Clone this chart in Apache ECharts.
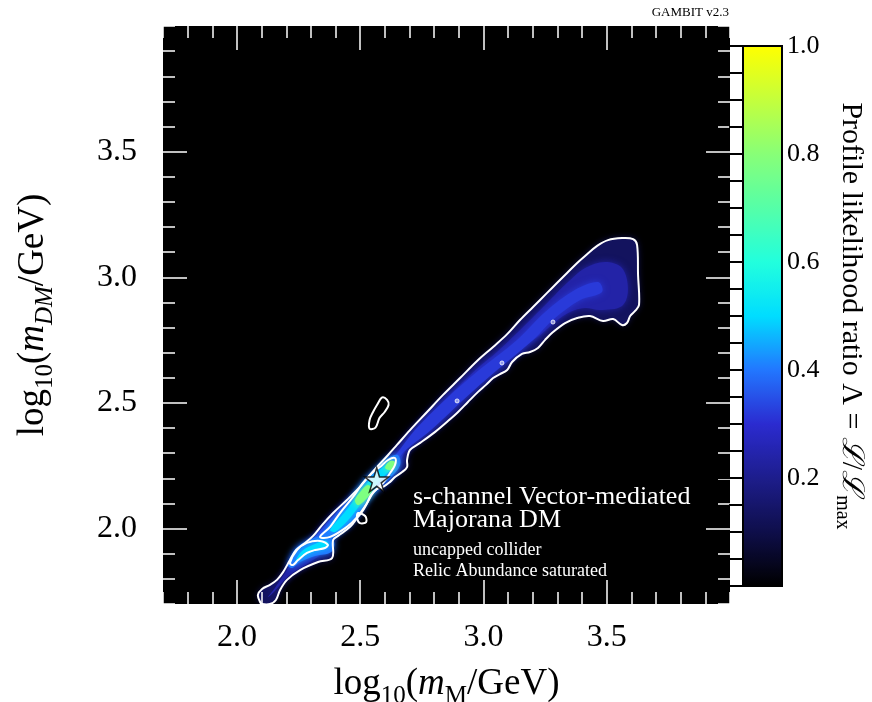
<!DOCTYPE html>
<html>
<head>
<meta charset="utf-8">
<script src="https://cdn.jsdelivr.net/npm/echarts@6/dist/echarts.min.js"></script>
<style>
  html, body { margin: 0; background: #fff; }
  #chart { width: 872px; height: 702px; }
</style>
</head>
<body>
<div id="chart"></div>
<script>
// regions of the profile likelihood
// points are [log10(mM/GeV), log10(mDM/GeV)]
const outerBand = [
  [2.094,1.708],[2.085,1.736],[2.102,1.760],[2.134,1.776],[2.162,1.796],[2.187,1.827],[2.215,1.875],
  [2.240,1.915],[2.276,1.943],[2.309,1.971],[2.345,2.014],[2.390,2.062],[2.446,2.114],[2.499,2.166],
  [2.532,2.205],[2.568,2.245],[2.613,2.293],[2.649,2.333],[2.702,2.392],[2.771,2.464],[2.836,2.532],
  [2.905,2.599],[2.974,2.667],[3.039,2.723],[3.096,2.774],[3.148,2.830],[3.201,2.882],[3.258,2.938],
  [3.298,2.977],[3.339,3.017],[3.380,3.057],[3.412,3.085],[3.461,3.125],[3.505,3.148],[3.562,3.156],
  [3.607,3.152],[3.623,3.129],[3.627,3.009],[3.631,2.890],[3.615,2.866],[3.595,2.846],[3.582,2.818],
  [3.562,2.810],[3.526,2.834],[3.485,2.826],[3.432,2.846],[3.380,2.838],[3.331,2.818],[3.282,2.782],
  [3.250,2.751],[3.221,2.719],[3.189,2.703],[3.156,2.695],[3.116,2.663],[3.096,2.631],[3.067,2.615],
  [3.039,2.599],[3.010,2.572],[2.978,2.544],[2.937,2.504],[2.897,2.464],[2.856,2.428],[2.804,2.385],
  [2.743,2.341],[2.702,2.313],[2.690,2.273],[2.690,2.245],[2.670,2.225],[2.641,2.205],[2.621,2.186],
  [2.593,2.166],[2.568,2.158],[2.544,2.134],[2.524,2.094],[2.507,2.066],[2.487,2.042],[2.459,2.007],
  [2.410,1.971],[2.390,1.955],[2.386,1.883],[2.329,1.867],[2.256,1.835],[2.203,1.796],[2.175,1.756],
  [2.158,1.716],[2.134,1.700],[2.102,1.700]
];
const midBand = [
  [2.126,1.728],[2.154,1.764],[2.203,1.835],[2.236,1.891],[2.288,1.931],[2.349,1.983],[2.398,2.046],
  [2.459,2.102],[2.520,2.162],[2.580,2.229],[2.641,2.293],[2.710,2.373],[2.783,2.452],[2.852,2.520],
  [2.917,2.583],[2.986,2.647],[3.055,2.703],[3.116,2.759],[3.177,2.818],[3.234,2.874],[3.290,2.930],
  [3.343,2.981],[3.412,3.037],[3.493,3.061],[3.562,3.037],[3.586,2.950],[3.562,2.886],[3.473,2.870],
  [3.412,2.878],[3.351,2.862],[3.290,2.822],[3.230,2.770],[3.169,2.731],[3.088,2.671],[3.027,2.623],
  [2.966,2.572],[2.905,2.512],[2.844,2.456],[2.783,2.404],[2.722,2.361],[2.674,2.293],[2.653,2.241],
  [2.605,2.194],[2.532,2.146],[2.499,2.082],[2.442,2.014],[2.390,1.975],[2.361,1.915],[2.296,1.867],
  [2.215,1.816],[2.150,1.748]
];
const coreBand = [
  [2.231,1.867],[2.304,1.955],[2.455,2.114],[2.560,2.194],[2.645,2.293],[2.722,2.392],[2.844,2.512],
  [2.982,2.631],[3.136,2.751],[3.250,2.862],[3.372,2.950],[3.465,2.981],[3.481,2.942],[3.392,2.910],
  [3.290,2.838],[3.201,2.751],[3.055,2.631],[2.917,2.512],[2.787,2.392],[2.666,2.293],[2.609,2.194],
  [2.511,2.114],[2.361,1.955],[2.276,1.891],[2.248,1.867]
];
const lowPatch = [
  [2.207,1.855],[2.240,1.923],[2.296,1.955],[2.357,1.971],[2.394,1.947],[2.382,1.907],[2.317,1.891],
  [2.256,1.867],[2.223,1.843]
];
const neckPatch = [
  [2.329,1.955],[2.398,2.042],[2.459,2.114],[2.507,2.182],[2.560,2.233],[2.613,2.281],[2.653,2.293],
  [2.662,2.253],[2.629,2.209],[2.580,2.166],[2.532,2.114],[2.479,2.042],[2.418,1.987],[2.357,1.947]
];
const lowCore = [
  [2.236,1.867],[2.264,1.911],[2.317,1.939],[2.361,1.951],[2.373,1.931],[2.321,1.915],[2.264,1.887]
];
const neckCore = [
  [2.378,1.995],[2.438,2.066],[2.491,2.134],[2.540,2.194],[2.593,2.245],[2.633,2.269],[2.637,2.249],
  [2.597,2.209],[2.548,2.154],[2.499,2.094],[2.451,2.034],[2.398,1.987]
];
const peakLow = [[2.479,2.114],[2.507,2.154],[2.532,2.174],[2.548,2.154],[2.520,2.114],[2.491,2.094]];
const peakHigh = [[2.601,2.241],[2.621,2.269],[2.641,2.265],[2.629,2.233]];

const fillShapes = [outerBand, midBand, coreBand, lowPatch, neckPatch, lowCore, neckCore, peakLow, peakHigh];
const fillLevels = [0.13, 0.24, 0.32, 0.4, 0.4, 0.5, 0.5, 0.78, 0.78];

// white confidence contours
const innerLow = [
  [2.215,1.863],[2.244,1.915],[2.284,1.943],[2.337,1.951],[2.369,1.935],[2.357,1.923],[2.317,1.915],
  [2.284,1.903],[2.248,1.875],[2.227,1.855]
];
const innerNeck = [
  [2.337,1.967],[2.378,2.007],[2.418,2.062],[2.471,2.126],[2.511,2.182],[2.548,2.221],[2.580,2.245],
  [2.613,2.273],[2.641,2.281],[2.641,2.253],[2.621,2.221],[2.593,2.182],[2.552,2.142],[2.528,2.102],
  [2.487,2.046],[2.446,2.007],[2.378,1.967]
];
const island = [
  [2.609,2.512],[2.589,2.522],[2.568,2.492],[2.552,2.464],[2.538,2.432],[2.538,2.398],[2.562,2.402],
  [2.578,2.440],[2.599,2.464],[2.615,2.492]
];
const smallLoop = [[2.491,2.062],[2.520,2.050],[2.524,2.026],[2.499,2.022],[2.487,2.042]];
const contourLines = [outerBand, innerLow, innerNeck, island, smallLoop];
const tinyLoops = [[2.893,2.508],[3.075,2.659],[3.282,2.822]];
const bestFit = [[2.567,2.194]];

const xMajor = [2.0, 2.5, 3.0, 3.5];
const yMajor = [2.0, 2.5, 3.0, 3.5];
const cmap = ['#000000','#0e0e4a','#1d1d8c','#2b2bd0','#2277ff','#00ddff',
              '#22ffdd','#55ffa8','#88ff77','#c4ff3c','#ffff00'];

const font = "'Liberation Serif', 'DejaVu Serif', serif";
const chart = echarts.init(document.getElementById('chart'));

function frameAxis(kind, position, major) {
  const ax = {
    type: 'value', gridIndex: 0, position, min: 1.7, max: 4.0, z: 5,
    axisLine: { show: false, onZero: false },
    splitLine: { show: false },
    axisTick: { show: true, inside: true, length: major ? 24 : 12, lineStyle: { color: '#fff', width: 1.5 } },
    axisLabel: { show: false }
  };
  if (major) ax.axisTick.customValues = kind === 'x' ? xMajor : yMajor;
  else ax.interval = 0.1;
  return ax;
}

const labelStyle = { fontSize: 32, color: '#000', fontFamily: font };
const rich = {
  a: { fontSize: 37, fontFamily: font, color: '#000', lineHeight: 50 },
  i: { fontSize: 37, fontFamily: font, color: '#000', fontStyle: 'italic', lineHeight: 50 },
  s: { fontSize: 25, fontFamily: font, color: '#000', lineHeight: 26, verticalAlign: 'bottom' },
  si: { fontSize: 25, fontFamily: font, color: '#000', fontStyle: 'italic', lineHeight: 26, verticalAlign: 'bottom' }
};
const cbRich = {
  a: { fontSize: 30, fontFamily: font, color: '#000', lineHeight: 38 },
  i: { fontSize: 30, fontFamily: font, color: '#000', fontStyle: 'italic', lineHeight: 38 },
  s: { fontSize: 20, fontFamily: font, color: '#000', lineHeight: 19, verticalAlign: 'bottom' }
};

const xBottom = frameAxis('x', 'bottom', false);
xBottom.axisLabel = { show: true, customValues: xMajor, formatter: v => v.toFixed(1), margin: 18, ...labelStyle };
xBottom.name = '{a|log}{s|10}{a|(}{i|m}{s|M}{a|/GeV)}';
xBottom.nameLocation = 'middle';
xBottom.nameGap = 55;
xBottom.nameTextStyle = { rich };

const yLeft = frameAxis('y', 'left', false);
yLeft.axisLabel = { show: true, customValues: yMajor, formatter: v => v.toFixed(1), margin: 26, ...labelStyle };
yLeft.name = '{a|log}{s|10}{a|(}{i|m}{si|DM}{a|/GeV)}';
yLeft.nameLocation = 'middle';
yLeft.nameGap = 105;
yLeft.nameRotate = 90;
yLeft.nameTextStyle = { rich };

chart.setOption({
  backgroundColor: '#fff',
  animation: false,
  grid: [
    { left: 163, top: 26, width: 567, height: 578, outerBoundsMode: 'none',
      show: true, backgroundColor: '#000', borderWidth: 0 },
    { left: 743, top: 46, width: 39, height: 540, outerBoundsMode: 'none',
      show: true, backgroundColor: 'transparent', borderColor: '#000', borderWidth: 2, z: 5 }
  ],
  xAxis: [
    xBottom,
    frameAxis('x', 'bottom', true),
    frameAxis('x', 'top', false),
    frameAxis('x', 'top', true),
    { type: 'value', gridIndex: 1, show: false, min: 0, max: 1 }
  ],
  yAxis: [
    yLeft,
    frameAxis('y', 'left', true),
    frameAxis('y', 'right', false),
    frameAxis('y', 'right', true),
    {
      type: 'value', gridIndex: 1, position: 'right', min: 0, max: 1, interval: 0.2, z: 6,
      axisLine: { show: false },
      splitLine: { show: false },
      axisTick: { show: true, inside: true, length: 27, lineStyle: { color: '#000', width: 2 } },
      minorTick: { show: true, splitNumber: 4, length: 14, lineStyle: { color: '#000', width: 2 } },
      axisLabel: { formatter: v => (v === 0 ? '' : v.toFixed(1)), fontSize: 26, color: '#000', fontFamily: font, margin: 5 },
      name: '{a|Profile likelihood ratio }{a|Λ = }{i|ℒ}{a|/}{i|ℒ}{s|max}',
      nameLocation: 'middle',
      nameRotate: -90,
      nameGap: 50,
      nameTextStyle: { rich: cbRich }
    }
  ],
  visualMap: {
    type: 'continuous', seriesIndex: 0, dimension: 1, min: 0, max: 1,
    calculable: false, left: 743, top: 46, itemWidth: 39, itemHeight: 540,
    padding: 0, z: 1, inRange: { color: cmap }
  },
  graphic: [
    { type: 'text', right: 143, top: 6, style: { text: 'GAMBIT v2.3', fill: '#000', font: `13px ${font}` } },
    { type: 'text', left: 413, top: 484, z: 20, style: { text: 's-channel Vector-mediated', fill: '#fff', font: `26px ${font}` } },
    { type: 'text', left: 413, top: 507, z: 20, style: { text: 'Majorana DM', fill: '#fff', font: `26px ${font}` } },
    { type: 'text', left: 413, top: 541, z: 20, style: { text: 'uncapped collider', fill: '#fff', font: `18px ${font}` } },
    { type: 'text', left: 413, top: 562, z: 20, style: { text: 'Relic Abundance saturated', fill: '#fff', font: `18px ${font}` } }
  ],
  series: [
    {
      type: 'custom', name: 'likelihood', xAxisIndex: 0, yAxisIndex: 0, clip: true,
      data: fillLevels.map((v, i) => [i, v]),
      renderItem: (params, api) => {
        const pts = fillShapes[params.dataIndex].map(p => api.coord(p));
        const color = api.visual('color');
        return {
          type: 'polygon',
          shape: { points: pts, smooth: 0.35 },
          style: { fill: color, shadowBlur: 7, shadowColor: color }
        };
      }
    },
    {
      type: 'custom', name: 'contours', xAxisIndex: 0, yAxisIndex: 0, clip: true, z: 3,
      data: contourLines.map((c, i) => [i]),
      renderItem: (params, api) => ({
        type: 'polygon',
        shape: { points: contourLines[params.dataIndex].map(p => api.coord(p)), smooth: 0.35 },
        style: { fill: 'none', stroke: '#fff', lineWidth: 2 }
      })
    },
    {
      type: 'scatter', xAxisIndex: 0, yAxisIndex: 0, z: 3, symbol: 'circle', symbolSize: 4,
      itemStyle: { color: 'rgba(255,255,255,0.6)', borderColor: '#fff', borderWidth: 1 },
      data: tinyLoops
    },
    {
      type: 'scatter', xAxisIndex: 0, yAxisIndex: 0, z: 4, symbolSize: 24,
      symbol: 'path://M50,0 L61,35 L98,35 L68,57 L79,91 L50,70 L21,91 L32,57 L2,35 L39,35 Z',
      itemStyle: { color: '#fff', borderColor: '#000', borderWidth: 1.5 },
      data: bestFit
    }
  ]
});
</script>
</body>
</html>
